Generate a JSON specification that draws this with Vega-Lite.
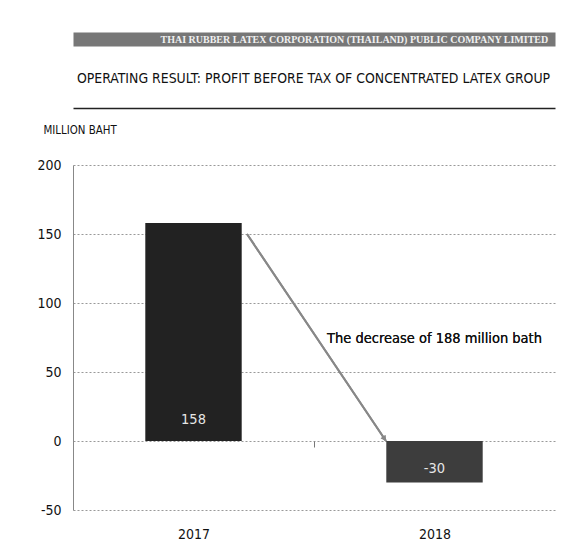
{
  "$schema": "https://vega.github.io/schema/vega-lite/v6.json",
  "width": 482,
  "height": 345,
  "autosize": {"type": "none"},
  "padding": {"left": 73, "top": 165, "right": 27, "bottom": 34},
  "background": "white",
  "config": {
    "view": {"stroke": null},
    "axis": {"labelFont": "DejaVu Sans Condensed, Liberation Sans", "titleFont": "DejaVu Sans Condensed, Liberation Sans"}
  },
  "data": {
    "values": [
      {"year": "2017", "value": 158},
      {"year": "2018", "value": -30}
    ]
  },
  "resolve": {"axis": {"x": "independent"}},
  "layer": [
    {
      "mark": {"type": "bar"},
      "encoding": {
        "x": {
          "field": "year",
          "type": "nominal",
          "scale": {"paddingInner": 0.6, "paddingOuter": 0.3},
          "axis": {
            "orient": "bottom",
            "offset": -69,
            "title": null,
            "labelAngle": 0,
            "labelFontSize": 14,
            "labelColor": "#111111",
            "labelPadding": 80,
            "labelOffset": 120.5,
            "domain": false,
            "ticks": true,
            "tickOffset": -120.5,
            "tickSize": 6,
            "tickColor": "#777777"
          }
        },
        "y": {
          "field": "value",
          "type": "quantitative",
          "title": "MILLION BAHT",
          "scale": {"domain": [-50, 200], "nice": false},
          "axis": {
            "values": [-50, 0, 50, 100, 150, 200],
            "labelExpr": "replace(datum.label, '\u2212', '-')",
            "titleAngle": 0,
            "titleX": -30,
            "titleY": -35,
            "titleAlign": "left",
            "titleBaseline": "middle",
            "titleFontSize": 11.4,
            "titleFontWeight": "normal",
            "titleColor": "#111111",
            "labelFontSize": 14,
            "labelPadding": 12,
            "labelColor": "#111111",
            "ticks": false,
            "domainColor": "#888888",
            "gridColor": "#999999",
            "gridDash": [2, 2]
          }
        },
        "color": {
          "field": "year",
          "type": "nominal",
          "scale": {"domain": ["2017", "2018"], "range": ["#222222", "#3d3d3d"]},
          "legend": null
        }
      }
    },
    {
      "transform": [{"filter": "datum.value > 0"}],
      "mark": {"type": "text", "font": "DejaVu Sans Condensed, Liberation Sans", "fontSize": 14.5, "color": "#e6e6e6", "baseline": "middle", "dy": -21},
      "encoding": {
        "x": {
          "field": "year",
          "type": "nominal",
          "axis": {
            "orient": "top",
            "offset": 57,
            "title": "OPERATING RESULT: PROFIT BEFORE TAX OF CONCENTRATED LATEX GROUP",
            "titleX": 240,
            "titleY": -30,
            "titleAlign": "center",
            "titleBaseline": "middle",
            "titleFontSize": 13.9,
            "titleFontWeight": "normal",
            "titleColor": "#111111",
            "labels": false,
            "ticks": false,
            "grid": false,
            "domain": true,
            "domainColor": "#222222",
            "domainWidth": 1.5
          }
        },
        "y": {"datum": 0, "type": "quantitative"},
        "text": {"field": "value", "type": "nominal"}
      }
    },
    {
      "transform": [{"filter": "datum.value < 0"}],
      "mark": {"type": "text", "font": "DejaVu Sans Condensed, Liberation Sans", "fontSize": 14.5, "color": "#e6e6e6", "baseline": "middle", "dy": -13},
      "encoding": {
        "x": {
          "field": "year",
          "type": "nominal",
          "axis": {
            "orient": "top",
            "offset": 126,
            "title": "THAI RUBBER LATEX CORPORATION (THAILAND) PUBLIC COMPANY LIMITED",
            "titleX": 87,
            "titleY": 0,
            "titleAlign": "left",
            "titleBaseline": "middle",
            "titleFont": "Liberation Serif",
            "titleFontSize": 10,
            "titleFontWeight": "bold",
            "titleColor": "#f0f0f0",
            "labels": false,
            "ticks": false,
            "grid": false,
            "domain": true,
            "domainColor": "#777777",
            "domainWidth": 14
          }
        },
        "y": {"field": "value", "type": "quantitative", "title": "MILLION BAHT"},
        "text": {"field": "value", "type": "nominal"}
      }
    },
    {
      "mark": {"type": "text", "font": "DejaVu Sans Condensed, Liberation Sans", "fontSize": 14.5, "color": "#111111", "baseline": "middle"},
      "encoding": {
        "x": {"datum": "2018", "type": "nominal", "axis": null},
        "y": {"datum": 74, "type": "quantitative"},
        "text": {"value": "The decrease of 188 million bath"}
      }
    },
    {
      "mark": {"type": "rule", "color": "#888888", "strokeWidth": 2, "xOffset": 53.5, "x2Offset": -48.5},
      "encoding": {
        "x": {"datum": "2017", "type": "nominal", "axis": null},
        "x2": {"datum": "2018"},
        "y": {"datum": 150, "type": "quantitative"},
        "y2": {"datum": 0}
      }
    },
    {
      "mark": {"type": "point", "shape": "M0,0L-0.55,1L0.55,1Z", "filled": true, "opacity": 1, "color": "#888888", "size": 110, "angle": 146, "xOffset": -48.5},
      "encoding": {
        "x": {"datum": "2018", "type": "nominal", "axis": null},
        "y": {"datum": 0, "type": "quantitative"}
      }
    }
  ]
}
